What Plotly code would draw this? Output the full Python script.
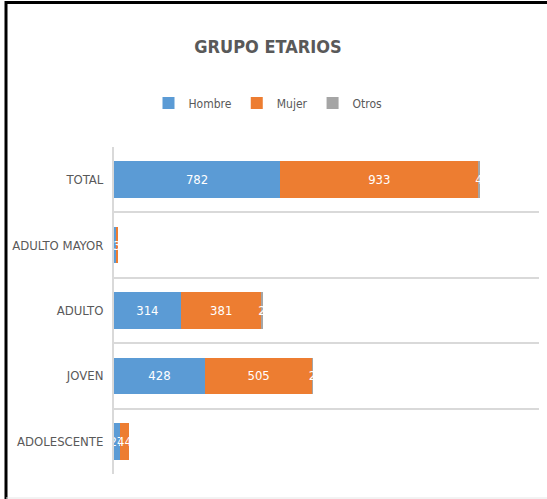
import plotly.graph_objects as go

categories = ["ADOLESCENTE", "JOVEN", "ADULTO", "ADULTO MAYOR", "TOTAL"]
hombre = [27, 428, 314, 13, 782]
mujer = [44, 505, 381, 3, 933]
otros = [0, 2, 2, 0, 4]

W, H = 547, 499
ML, MR, MT, MB = 114, 8, 147, 25
PW, PH = W - ML - MR, H - MT - MB

FONT = "DejaVu Sans Condensed, Liberation Sans Narrow, sans-serif"
GRAY_TXT = "#595959"

def px_x(p):
    return (p - ML) / PW

def px_y(p):
    return 1 - (p - MT) / PH

fig = go.Figure()
for name, vals, col in [("Hombre", hombre, "#5B9BD5"),
                        ("Mujer", mujer, "#ED7D31"),
                        ("Otros", otros, "#A5A5A5")]:
    fig.add_trace(go.Bar(
        y=categories, x=vals, name=name, orientation="h",
        marker=dict(color=col, line=dict(width=0)),
        text=[str(v) for v in vals],
        textposition="inside", insidetextanchor="middle",
        textfont=dict(color="white", size=13, family=FONT),
        cliponaxis=False,
    ))

fig.update_layout(
    width=W, height=H,
    margin=dict(l=ML, r=MR, t=MT, b=MB, autoexpand=False),
    barmode="stack", bargap=0.44,
    plot_bgcolor="white", paper_bgcolor="white",
    font=dict(family=FONT, color=GRAY_TXT),
    uniformtext=dict(minsize=13, mode="show"),
    title=dict(text="<b>GRUPO ETARIOS</b>", x=268 / W, xanchor="center",
               xref="container",
               y=1 - 47 / H, yanchor="middle",
               font=dict(size=18, color=GRAY_TXT, family=FONT)),
    legend=dict(orientation="h", x=px_x(268), xanchor="center",
                y=px_y(103), yanchor="middle",
                font=dict(size=12, color=GRAY_TXT, family=FONT),
                itemwidth=30, traceorder="normal"),
    showlegend=True,
    xaxis=dict(range=[0, 2000], showticklabels=False, showgrid=False,
               zeroline=False, ticks="", fixedrange=True, automargin=False),
    yaxis=dict(tickson="boundaries", showgrid=True, gridcolor="#D9D9D9",
               gridwidth=2, ticks="", showline=True, linecolor="#D9D9D9",
               linewidth=2, ticklabelstandoff=6, automargin=False,
               fixedrange=True,
               tickfont=dict(size=13, color=GRAY_TXT, family=FONT)),
    shapes=[
        dict(type="line", xref="paper", yref="paper",
             x0=px_x(5), x1=px_x(W), y0=px_y(2.5), y1=px_y(2.5),
             line=dict(color="black", width=3)),
        dict(type="line", xref="paper", yref="paper",
             x0=px_x(6), x1=px_x(6), y0=px_y(1), y1=px_y(H),
             line=dict(color="black", width=3)),
        dict(type="line", xref="paper", yref="paper",
             x0=px_x(6), x1=px_x(W), y0=px_y(H - 1), y1=px_y(H - 1),
             line=dict(color="#E6E6E6", width=1)),
    ],
)

fig.write_html("out.html",
               config={"displayModeBar": False},
               post_script="document.body.style.margin='0';"
                           "document.body.style.overflow='hidden';")
